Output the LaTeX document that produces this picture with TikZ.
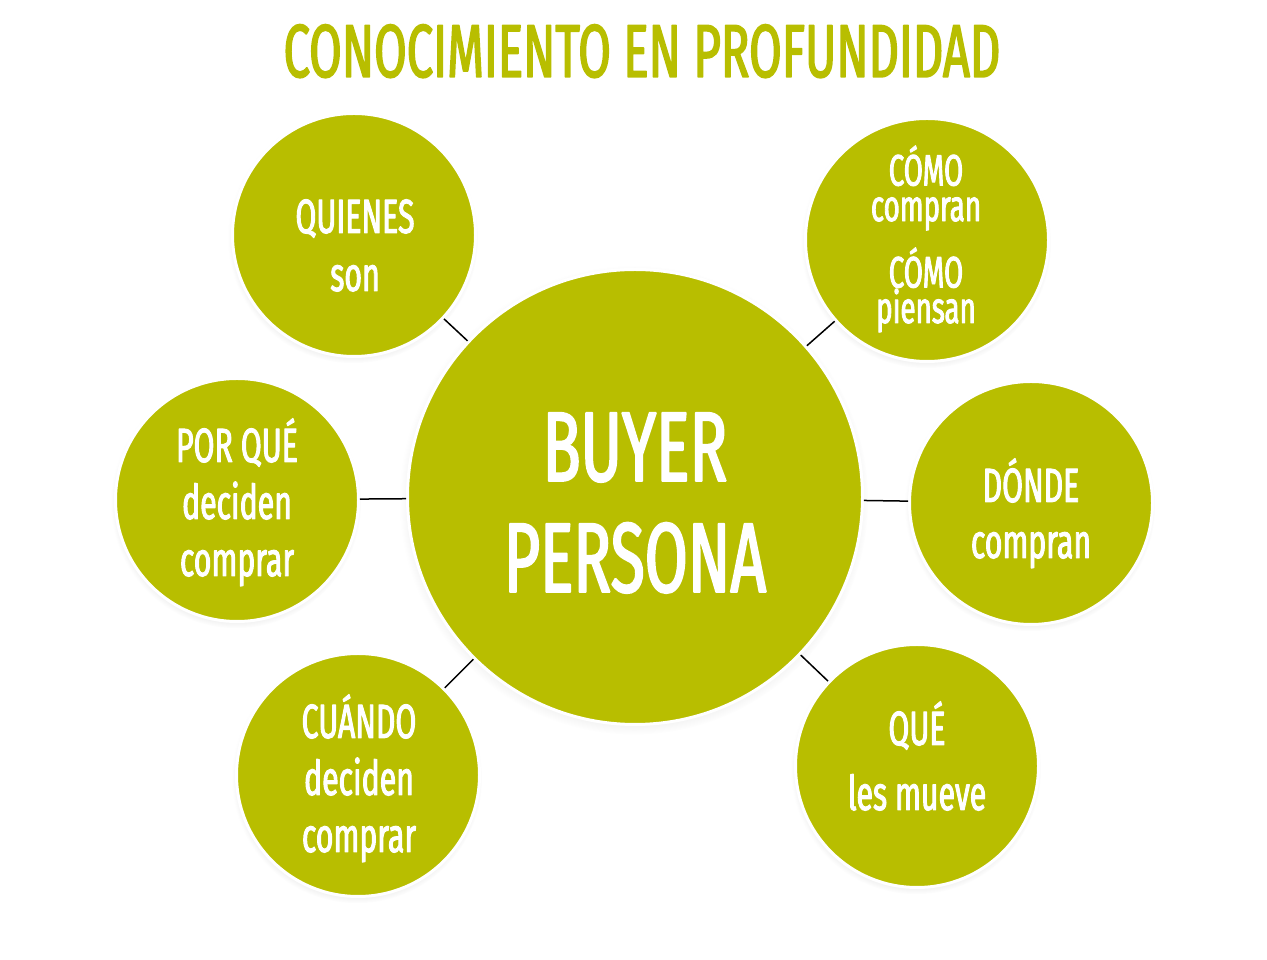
\documentclass[tikz,border=0pt]{standalone}
\usepackage{fontspec}
\setmainfont{Fira Sans}[FakeStretch=0.63,FakeBold=2]
\usetikzlibrary{shadows}
\definecolor{olive}{RGB}{184,190,0}

\begin{document}
\begin{tikzpicture}[line join=bevel,
  bubble/.style={circle,fill=olive,draw=white,line width=3bp,inner sep=0pt,
    circular drop shadow={shadow xshift=-1bp,shadow yshift=-3bp,shadow scale=1.03,opacity=.3}},
  big/.style={bubble,minimum size=455bp},
  small/.style={bubble,minimum size=243bp},
  words/.style={text=white,inner sep=0pt,anchor=base,align=center},
  link/.style={black,line width=1.5bp}]
%%
  \useasboundingbox (0bp,0bp) rectangle (1267bp,960bp);
  \node (title) at (642bp,883bp) [inner sep=0pt,anchor=base,text=olive,font=\fontsize{75bp}{80bp}\selectfont] {CONOCIMIENTO EN PROFUNDIDAD};
%%
  \node (buyer) at (635bp,463bp) [big] {};
  \node (quienes) at (354bp,725bp) [small] {};
  \node (como) at (927bp,720bp) [small] {};
  \node (porque) at (237bp,460bp) [small] {};
  \node (donde) at (1031bp,457bp) [small] {};
  \node (cuando) at (358bp,185bp) [small] {};
  \node (que) at (917bp,194bp) [small] {};
%%
  \draw [link] (quienes) -- (buyer);
  \draw [link] (como) -- (buyer);
  \draw [link] (porque) -- (buyer);
  \draw [link] (donde) -- (buyer);
  \draw [link] (cuando) -- (buyer);
  \draw [link] (que) -- (buyer);
%% text, placed by the baseline of its last line
  \node (buyertext) at (635bp,368bp) [words,font=\fontsize{99bp}{111bp}\selectfont] {BUYER\\PERSONA};
  \node (quienestext) at (355bp,669bp) [words,font=\fontsize{48bp}{58bp}\selectfont] {QUIENES\\son};
  \node (porquetext) at (237bp,384bp) [words,font=\fontsize{48bp}{57bp}\selectfont] {POR QUÉ\\deciden\\comprar};
  \node (cuandotext) at (359bp,108bp) [words,font=\fontsize{48bp}{57bp}\selectfont] {CUÁNDO\\deciden\\comprar};
  \node (comotext) at (926bp,637bp) [words,font=\fontsize{44bp}{35.5bp}\selectfont] {CÓMO\\compran\\[16bp]CÓMO\\piensan};
  \node (dondetext) at (1031bp,402bp) [words,font=\fontsize{48bp}{56bp}\selectfont] {DÓNDE\\compran};
  \node (quetext) at (917bp,150bp) [words,font=\fontsize{48bp}{65bp}\selectfont] {QUÉ\\les mueve};
%
\end{tikzpicture}
\end{document}
